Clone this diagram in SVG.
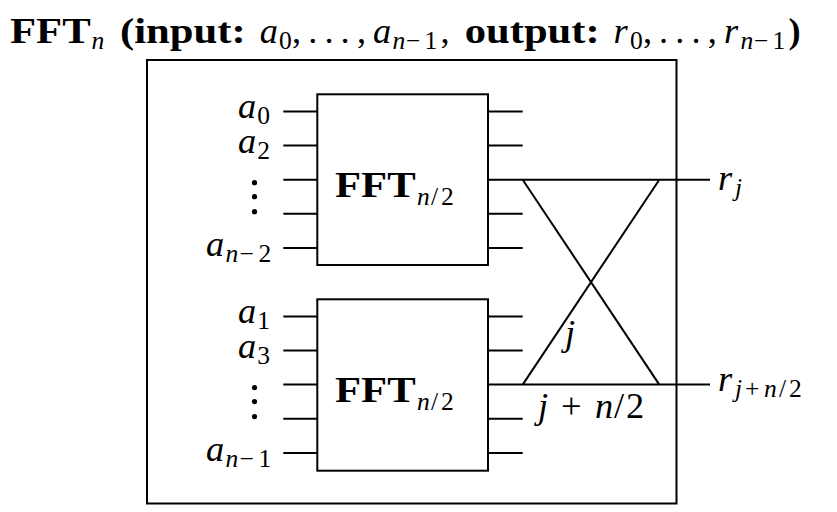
<svg xmlns="http://www.w3.org/2000/svg" width="837" height="512" viewBox="0 0 837 512">
<style>
text,tspan{font-family:"Liberation Serif","DejaVu Serif","Times New Roman",serif;fill:#000}
.b{font-weight:bold;font-size:36.4px}
.m{font-style:italic;font-size:36.4px}
.r{font-style:normal}
.i{font-style:italic}
.s{font-size:25.5px}
.ln{stroke:#000;stroke-width:2;fill:none}
.box{stroke:#000;stroke-width:2;fill:#fff}
</style>
<rect width="837" height="512" fill="#fff"/>

<g id="title">
  <text class="b" x="10" y="43" textLength="80.7" lengthAdjust="spacingAndGlyphs">FFT</text>
  <text class="s i" x="91.5" y="48.5">n</text>
  <text class="b" x="120" y="43" textLength="125.7" lengthAdjust="spacingAndGlyphs">(input:</text>
  <text class="m" y="43"><tspan x="259.7">a</tspan><tspan class="s r" x="279" dy="5.5">0</tspan><tspan class="r" x="292" dy="-5.5">,</tspan><tspan class="r" x="308.2">.</tspan><tspan class="r" x="324.4">.</tspan><tspan class="r" x="340.6">.</tspan><tspan class="r" x="357">,</tspan><tspan x="373.1">a</tspan><tspan class="s" x="392.4" dy="5.5">n</tspan><tspan class="s r" x="406">−</tspan><tspan class="s r" x="424.6">1</tspan><tspan class="r" x="440.4" dy="-5.5">,</tspan></text>
  <text class="b" x="464.7" y="43" textLength="135" lengthAdjust="spacingAndGlyphs">output:</text>
  <text class="m" y="43"><tspan x="613.6">r</tspan><tspan class="s r" x="630" dy="5.5">0</tspan><tspan class="r" x="643" dy="-5.5">,</tspan><tspan class="r" x="659">.</tspan><tspan class="r" x="675.2">.</tspan><tspan class="r" x="691.4">.</tspan><tspan class="r" x="707.7">,</tspan><tspan x="724">r</tspan><tspan class="s" x="740.4" dy="5.5">n</tspan><tspan class="s r" x="754">−</tspan><tspan class="s r" x="772.6">1</tspan></text>
  <text class="b" x="788.4" y="43">)</text>
</g>

<g id="fft-n">
  <rect x="147" y="60" width="529.5" height="443.5" fill="none" stroke="#000" stroke-width="2"/>
</g>

<g id="connectors">
  <path class="ln" d="M283.3 111.4H317.3M283.3 145.5H317.3M283.3 179.7H317.3M283.3 213.8H317.3M283.3 247.9H317.3"/>
  <path class="ln" d="M488 111.4H522.7M488 145.5H522.7M488 213.8H522.7M488 247.9H522.7"/>
  <path class="ln" d="M283.3 316.4H317.3M283.3 350.5H317.3M283.3 384.6H317.3M283.3 418.8H317.3M283.3 452.9H317.3"/>
  <path class="ln" d="M488 316.4H522.7M488 350.5H522.7M488 418.8H522.7M488 452.9H522.7"/>
  <path class="ln" d="M488 179.7H710M488 384.6H710M522.7 179.7L659.3 384.6M522.7 384.6L659.3 179.7"/>
</g>

<g id="fft-upper">
  <rect class="box" x="317.3" y="94.3" width="170.7" height="170.7"/>
  <text class="b" x="335" y="197" textLength="80.6" lengthAdjust="spacingAndGlyphs">FFT</text>
  <text class="s" y="205"><tspan class="i" x="417">n</tspan><tspan class="r" x="431">/</tspan><tspan class="r" x="441">2</tspan></text>
</g>

<g id="fft-lower">
  <rect class="box" x="317.3" y="299.3" width="170.7" height="171.4"/>
  <text class="b" x="335" y="402" textLength="80.6" lengthAdjust="spacingAndGlyphs">FFT</text>
  <text class="s" y="410"><tspan class="i" x="417">n</tspan><tspan class="r" x="431">/</tspan><tspan class="r" x="441">2</tspan></text>
</g>

<g id="inputs-even">
  <text class="m" y="118"><tspan x="238">a</tspan><tspan class="s r" x="257.3" dy="6">0</tspan></text>
  <text class="m" y="152.5"><tspan x="238">a</tspan><tspan class="s r" x="257.3" dy="6">2</tspan></text>
  <circle cx="254.5" cy="182.7" r="2.6"/><circle cx="254.5" cy="196.7" r="2.6"/><circle cx="254.5" cy="211.7" r="2.6"/>
  <text class="m" y="256"><tspan x="206">a</tspan><tspan class="s" x="225.5" dy="6">n</tspan><tspan class="s r" x="239.5">−</tspan><tspan class="s r" x="258.5">2</tspan></text>
</g>

<g id="inputs-odd">
  <text class="m" y="323.4"><tspan x="238">a</tspan><tspan class="s r" x="257.3" dy="6">1</tspan></text>
  <text class="m" y="357.5"><tspan x="238">a</tspan><tspan class="s r" x="257.3" dy="6">3</tspan></text>
  <circle cx="254.5" cy="387.6" r="2.6"/><circle cx="254.5" cy="401.6" r="2.6"/><circle cx="254.5" cy="416.6" r="2.6"/>
  <text class="m" y="461"><tspan x="206">a</tspan><tspan class="s" x="225.5" dy="6">n</tspan><tspan class="s r" x="239.5">−</tspan><tspan class="s r" x="258.5">1</tspan></text>
</g>

<g id="outputs">
  <text class="m" y="190"><tspan x="718">r</tspan><tspan class="s" x="735" dy="6">j</tspan></text>
  <text class="m" y="391"><tspan x="718">r</tspan><tspan class="s" x="735" dy="6">j</tspan><tspan class="s r" x="745">+</tspan><tspan class="s" x="764">n</tspan><tspan class="s r" x="779">/</tspan><tspan class="s r" x="789">2</tspan></text>
</g>

<g id="twiddle-labels">
  <text class="m" x="565" y="345">j</text>
  <text class="m" y="418"><tspan x="538">j</tspan><tspan class="r" x="561">+</tspan><tspan x="595">n</tspan><tspan class="r" x="614">/</tspan><tspan class="r" x="626">2</tspan></text>
</g>
</svg>
